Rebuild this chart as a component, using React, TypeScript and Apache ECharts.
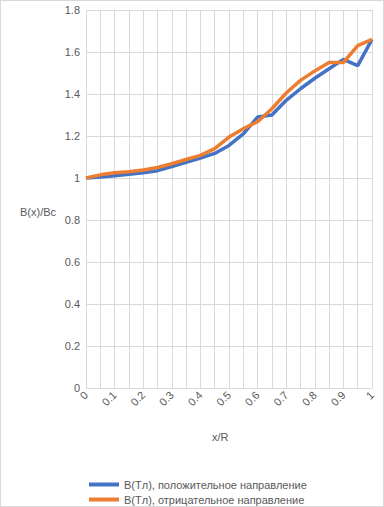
import React, { useEffect, useRef } from "react";
import * as echarts from "echarts";

const xCategories = ["0","0.05","0.1","0.15","0.2","0.25","0.3","0.35","0.4","0.45","0.5","0.55","0.6","0.65","0.7","0.75","0.8","0.85","0.9","0.95","1"];
const bluePositive = [1.0, 1.005, 1.011, 1.018, 1.025, 1.035, 1.055, 1.075, 1.095, 1.117, 1.155, 1.21, 1.29, 1.3, 1.37, 1.425, 1.475, 1.52, 1.565, 1.535, 1.66];
const orangeNegative = [1.0, 1.015, 1.025, 1.03, 1.038, 1.05, 1.068, 1.088, 1.108, 1.14, 1.195, 1.235, 1.268, 1.33, 1.405, 1.465, 1.51, 1.55, 1.55, 1.63, 1.66];
const seriesNames = ["B(Tл), положительное направление", "B(Tл), отрицательное направление"];
const yAxisTitle = "B(x)/Bc";
const xAxisTitle = "x/R";

const FONT = "Liberation Sans";
const TXT = "#595959";
const GRID = "#d9d9d9";

export default function App() {
  const ref = useRef<HTMLDivElement>(null);
  useEffect(() => {
    const chart = echarts.init(ref.current!, null, { renderer: "svg" });
    const legendBase = {
      orient: "horizontal",
      left: 84,
      itemWidth: 30,
      itemHeight: 4,
      icon: "rect",
      textStyle: { color: TXT, fontSize: 11, fontFamily: FONT },
    };
    chart.setOption({
      animation: false,
      textStyle: { fontFamily: FONT },
      grid: { left: 86, right: 12, top: 10, bottom: 119, containLabel: false },
      xAxis: {
        type: "category",
        data: xCategories,
        boundaryGap: false,
        axisLine: { lineStyle: { color: GRID } },
        axisTick: { show: false },
        splitLine: { show: true, interval: 0, lineStyle: { color: GRID } },
        axisLabel: {
          interval: 1,
          rotate: 45,
          color: TXT,
          fontSize: 11,
          fontFamily: FONT,
          margin: 5,
        },
      },
      yAxis: {
        type: "value",
        min: 0,
        max: 1.8,
        interval: 0.2,
        axisLine: { show: false },
        axisTick: { show: false },
        splitLine: { lineStyle: { color: GRID } },
        axisLabel: { color: TXT, fontSize: 11, fontFamily: FONT, margin: 6 },
      },
      legend: [
        { ...legendBase, top: 474, data: [seriesNames[0]] },
        { ...legendBase, top: 489, data: [seriesNames[1]] },
      ],
      graphic: [
        { type: "text", left: 20, top: 206, style: { text: yAxisTitle, fill: TXT, font: `11px "${FONT}"` } },
        { type: "text", left: 212, top: 431, style: { text: xAxisTitle, fill: TXT, font: `11px "${FONT}"` } },
      ],
      series: [
        {
          name: seriesNames[0],
          type: "line",
          data: bluePositive,
          symbol: "none",
          color: "#4472C4",
          lineStyle: { width: 3.5, color: "#4472C4" },
        },
        {
          name: seriesNames[1],
          type: "line",
          data: orangeNegative,
          symbol: "none",
          color: "#ED7D31",
          lineStyle: { width: 3.5, color: "#ED7D31" },
        },
      ],
    });
    return () => chart.dispose();
  }, []);
  return (
    <div
      style={{
        position: "fixed",
        left: 0,
        top: 0,
        width: 384,
        height: 507,
        boxSizing: "border-box",
        border: "1px solid #d9d9d9",
        background: "#fff",
      }}
    >
      <div ref={ref} style={{ position: "absolute", left: -1, top: -1, width: 384, height: 507 }} />
    </div>
  );
}
